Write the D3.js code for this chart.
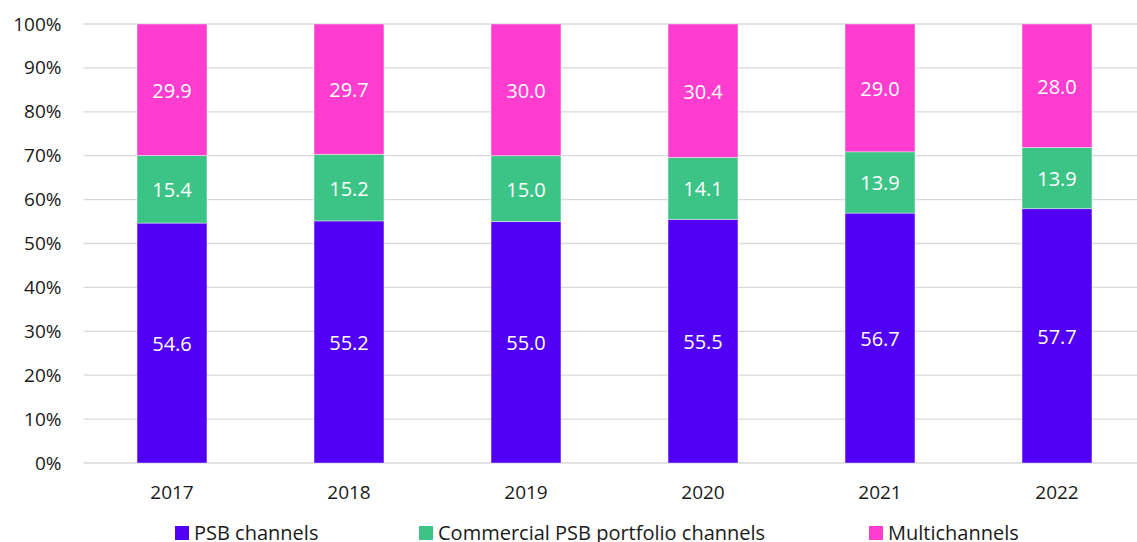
<!DOCTYPE html>
<html>
<head>
<meta charset="utf-8">
<script src="https://cdn.jsdelivr.net/npm/d3@7"></script>
<style>
  body { margin: 0; background: #fff; }
  svg { display: block; font-family: "Open Sans", "Noto Sans", sans-serif; }
</style>
</head>
<body>
<div id="chart"></div>
<script>
// data
const years = ["2017", "2018", "2019", "2020", "2021", "2022"];
const psb = [54.6, 55.2, 55.0, 55.5, 56.7, 57.7];
const commercial = [15.4, 15.2, 15.0, 14.1, 13.9, 13.9];
const multi = [29.9, 29.7, 30.0, 30.4, 29.0, 28.0];
const seriesNames = ["PSB channels", "Commercial PSB portfolio channels", "Multichannels"];
const yTicks = [0, 0.1, 0.2, 0.3, 0.4, 0.5, 0.6, 0.7, 0.8, 0.9, 1];

const width = 1137, height = 542;
const margin = { top: 24, bottom: 79, left: 83.5, right: -8.5 };
const colors = ["#5200F5", "#3CC486", "#FF3CD0"];

const rows = years.map((y, i) => ({ year: y, s0: psb[i], s1: commercial[i], s2: multi[i] }));
const keys = ["s0", "s1", "s2"];
const stacked = d3.stack().keys(keys).offset(d3.stackOffsetExpand)(rows);

const svg = d3.select("#chart").append("svg")
    .attr("width", width)
    .attr("height", height);

const xScale = d3.scaleBand()
    .domain(years)
    .range([margin.left, width - margin.right])
    .paddingInner(0.605)
    .paddingOuter(0.3025);

const yScale = d3.scaleLinear()
    .domain([0, 1])
    .range([height - margin.bottom, margin.top]);

// gridlines
svg.append("g")
    .selectAll("line")
    .data(yTicks)
    .join("line")
    .attr("x1", margin.left)
    .attr("x2", width)
    .attr("y1", d => yScale(d))
    .attr("y2", d => yScale(d))
    .attr("stroke", "#d9d9d9")
    .attr("stroke-width", 1.3);

// y axis labels
const yAxis = d3.axisLeft(yScale).tickValues(yTicks).tickFormat(d3.format(".0%")).tickSize(0).tickPadding(22);
svg.append("g")
    .attr("transform", `translate(${margin.left},0)`)
    .call(yAxis)
    .call(g => g.select(".domain").remove())
    .selectAll("text")
    .attr("font-size", 19)
    .attr("font-family", "Open Sans, sans-serif")
    .attr("fill", "#1a1a1a");

// bars
const groups = svg.append("g")
    .selectAll("g")
    .data(stacked)
    .join("g")
    .attr("fill", (d, i) => colors[i]);

groups.selectAll("rect")
    .data(d => d)
    .join("rect")
    .attr("x", d => xScale(d.data.year))
    .attr("width", xScale.bandwidth())
    .attr("y", d => yScale(d[1]))
    .attr("height", d => yScale(d[0]) - yScale(d[1]))
    .attr("stroke", "#ffffff")
    .attr("stroke-opacity", 0.5)
    .attr("stroke-width", 0.8);

// value labels
groups.each(function (s) {
    d3.select(this).selectAll("text")
        .data(s)
        .join("text")
        .attr("x", d => xScale(d.data.year) + xScale.bandwidth() / 2)
        .attr("y", d => (yScale(d[0]) + yScale(d[1])) / 2)
        .attr("dy", "0.4em")
        .attr("text-anchor", "middle")
        .attr("font-size", 20)
        .attr("fill", "#ffffff")
        .text(d => d3.format(".1f")(d.data[s.key]));
});

// x axis
const xAxis = d3.axisBottom(xScale).tickSize(0).tickPadding(23);
svg.append("g")
    .attr("transform", `translate(0,${height - margin.bottom})`)
    .call(xAxis)
    .call(g => g.select(".domain").remove())
    .selectAll("text")
    .attr("font-size", 19)
    .attr("font-family", "Open Sans, sans-serif")
    .attr("fill", "#1a1a1a");

// legend
const legendX = [175, 419, 869];
const legend = svg.append("g")
    .selectAll("g")
    .data(seriesNames)
    .join("g")
    .attr("transform", (d, i) => `translate(${legendX[i]},533)`);

legend.append("rect")
    .attr("x", 0)
    .attr("y", -7)
    .attr("width", 14)
    .attr("height", 14)
    .attr("fill", (d, i) => colors[i]);

legend.append("text")
    .attr("x", 19)
    .attr("dy", "0.36em")
    .attr("font-size", 20)
    .attr("fill", "#1a1a1a")
    .text(d => d);
</script>
</body>
</html>
